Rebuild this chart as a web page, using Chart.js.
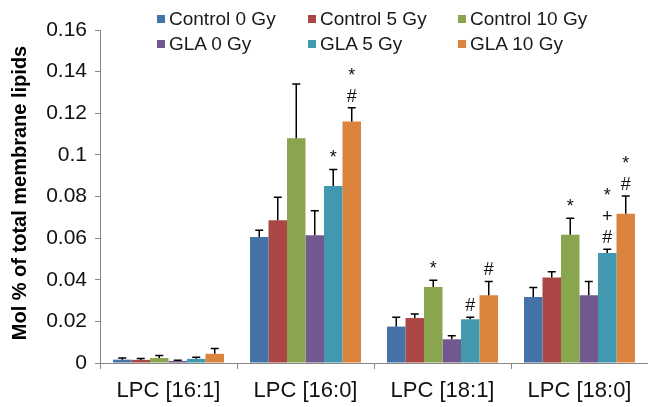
<!DOCTYPE html>
<html>
<head>
<meta charset="utf-8">
<script src="https://cdn.jsdelivr.net/npm/chart.js@4.4.0/dist/chart.umd.min.js"></script>
<style>
  html, body { margin: 0; padding: 0; background: #fff; }
  #wrap { position: relative; width: 648px; height: 407px; }
  #legend { position: absolute; left: 0; top: 0; width: 648px; height: 60px; font-family: "Liberation Sans", Arial, sans-serif; font-size: 19px; color: #1a1a1a; pointer-events: none; }
  .item { position: absolute; white-space: nowrap; line-height: 22px; }
  .item i { display: inline-block; width: 8px; height: 8px; margin-right: 4px; vertical-align: 2px; }
</style>
</head>
<body>
<div id="wrap">
  <canvas id="lipid-chart"></canvas>
  <div id="legend"></div>
</div>
<script>
// categories and series (Mol % of total membrane lipids)
const categories = ['LPC [16:1]', 'LPC [16:0]', 'LPC [18:1]', 'LPC [18:0]'];
const seriesNames = ['Control 0 Gy', 'Control 5 Gy', 'Control 10 Gy', 'GLA 0 Gy', 'GLA 5 Gy', 'GLA 10 Gy'];
const seriesColors = ['#4572A7', '#AA4643', '#89A54E', '#71588F', '#4198AF', '#DB843D'];

const control0 = [0.0016, 0.0606, 0.0175, 0.0317];
const control5 = [0.0015, 0.0686, 0.0216, 0.0411];
const control10 = [0.0024, 0.108, 0.0365, 0.0616];
const gla0 = [0.0010, 0.0614, 0.0114, 0.0325];
const gla5 = [0.0020, 0.085, 0.0210, 0.0528];
const gla10 = [0.0044, 0.116, 0.0325, 0.0717];

// upper error (SD) for each bar
const control0Err = [0.0008, 0.0032, 0.0045, 0.0046];
const control5Err = [0.0007, 0.011, 0.0020, 0.0028];
const control10Err = [0.0012, 0.026, 0.0032, 0.0080];
const gla0Err = [0.0003, 0.0117, 0.0017, 0.0067];
const gla5Err = [0.0008, 0.0080, 0.0010, 0.0019];
const gla10Err = [0.0026, 0.0067, 0.0067, 0.0086];

// significance marks, listed bottom to top
const control10Marks = [[], [], ['*'], ['*']];
const gla5Marks = [[], ['*'], ['#'], ['#', '+', '*']];
const gla10Marks = [[], ['#', '*'], ['#'], ['#', '*']];

const yTicks = [0, 0.02, 0.04, 0.06, 0.08, 0.1, 0.12, 0.14, 0.16];

const values = [control0, control5, control10, gla0, gla5, gla10];
const errors = [control0Err, control5Err, control10Err, gla0Err, gla5Err, gla10Err];
const noMarks = [[], [], [], []];
const marks = [noMarks, noMarks, control10Marks, noMarks, gla5Marks, gla10Marks];

const FONT = '"Liberation Sans", Arial, sans-serif';

// html legend, 3 columns x 2 rows
const legendPos = [[157, 8], [308, 8], [458, 8], [157, 33], [308, 33], [458, 33]];
const legendEl = document.getElementById('legend');
seriesNames.forEach((name, i) => {
    const d = document.createElement('div');
    d.className = 'item';
    d.style.left = legendPos[i][0] + 'px';
    d.style.top = legendPos[i][1] + 'px';
    d.innerHTML = '<i style="background:' + seriesColors[i] + '"></i>' + name;
    legendEl.appendChild(d);
});

const errorBarPlugin = {
    id: 'errorBars',
    afterDatasetsDraw(chart) {
        const ctx = chart.ctx;
        const y = chart.scales.y;
        ctx.save();
        chart.data.datasets.forEach((ds, di) => {
            const meta = chart.getDatasetMeta(di);
            meta.data.forEach((bar, i) => {
                const top = y.getPixelForValue(ds.data[i]);
                const errTop = y.getPixelForValue(ds.data[i] + errors[di][i]);
                ctx.strokeStyle = '#000';
                ctx.lineWidth = 1.5;
                ctx.beginPath();
                ctx.moveTo(bar.x, top);
                ctx.lineTo(bar.x, errTop);
                ctx.moveTo(bar.x - 4, errTop);
                ctx.lineTo(bar.x + 4, errTop);
                ctx.stroke();
                ctx.fillStyle = '#111';
                ctx.font = '18px ' + FONT;
                ctx.textAlign = 'center';
                ctx.textBaseline = 'alphabetic';
                marks[di][i].forEach((m, k) => {
                    ctx.fillText(m, bar.x, errTop - 6 - k * 21);
                });
            });
        });
        // y axis title
        ctx.translate(20, 193);
        ctx.rotate(-Math.PI / 2);
        ctx.font = 'bold 20px ' + FONT;
        ctx.fillStyle = '#000';
        ctx.textAlign = 'center';
        ctx.textBaseline = 'middle';
        ctx.fillText('Mol % of total membrane lipids', 0, 0);
        ctx.restore();
    }
};

const ctx = document.getElementById('lipid-chart').getContext('2d');
new Chart(ctx, {
    type: 'bar',
    data: {
        labels: categories,
        datasets: seriesNames.map((name, i) => ({
            label: name, data: values[i], backgroundColor: seriesColors[i], borderWidth: 0,
            categoryPercentage: 0.81, barPercentage: 1.0
        }))
    },
    options: {
        responsive: true, maintainAspectRatio: false, animation: false,
        layout: { padding: { top: 30, right: 0, left: 0, bottom: 0 } },
        plugins: { legend: { display: false }, tooltip: { enabled: false } },
        scales: {
            x: {
                grid: { display: true, drawOnChartArea: false, offset: true, tickLength: 6, color: '#868686' },
                border: { color: '#868686', width: 1 },
                ticks: { color: '#111', font: { family: FONT, size: 22 }, padding: 9, maxRotation: 0 },
                afterFit: (scale) => { scale.height = 44; }
            },
            y: {
                min: 0, max: 0.16,
                afterBuildTicks: (scale) => { scale.ticks = yTicks.map(v => ({ value: v })); },
                grid: { display: true, drawOnChartArea: false, tickLength: 5, color: '#868686' },
                border: { color: '#868686', width: 1 },
                ticks: {
                    color: '#111', font: { family: FONT, size: 21 }, padding: 8,
                    callback: (v) => String(+(+v).toFixed(2))
                },
                afterFit: (scale) => { scale.width = 100; }
            }
        }
    },
    plugins: [errorBarPlugin]
});
</script>
</body>
</html>
